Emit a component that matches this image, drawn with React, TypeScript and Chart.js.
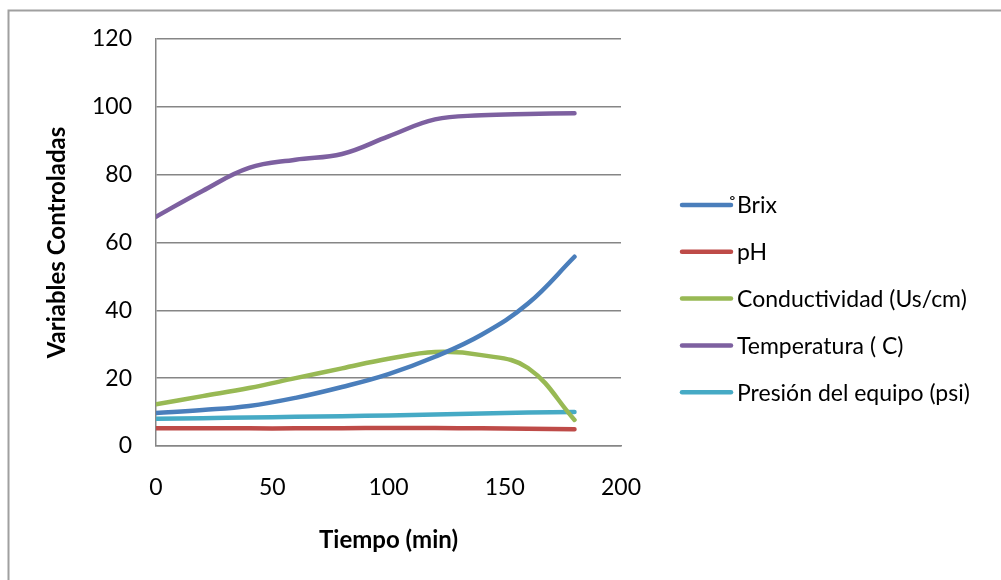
import React, { useEffect, useRef } from "react";
import { Chart, registerables } from "chart.js";

Chart.register(...registerables);

const tiempo = [0, 20, 40, 60, 80, 100, 120, 140, 160, 180];
const brix = [9.7, 10.6, 11.8, 14.2, 17.4, 21.2, 26.3, 32.8, 42.0, 55.8];
const ph = [5.2, 5.2, 5.2, 5.2, 5.25, 5.3, 5.3, 5.2, 5.05, 4.95];
const conductividad = [12.3, 14.7, 17.1, 20.0, 22.9, 25.7, 27.7, 26.8, 23.0, 7.7];
const temperatura = [67.6, 75.2, 82.0, 84.4, 86.1, 91.3, 96.3, 97.5, 97.9, 98.1];
const presion = [8.0, 8.2, 8.4, 8.6, 8.8, 9.0, 9.3, 9.6, 9.9, 10.0];

const seriesNames = [
  "˚Brix",
  "pH",
  "Conductividad (Us/cm)",
  "Temperatura ( C)",
  "Presión del equipo (psi)",
];
const seriesColors = ["#4A7EBB", "#BE4B48", "#98B954", "#7D60A0", "#46AAC5"];
const seriesValues = [brix, ph, conductividad, temperatura, presion];

const xTicks = [0, 50, 100, 150, 200];
const yTicks = [0, 20, 40, 60, 80, 100, 120];

const FONT = "Lato, 'Open Sans', sans-serif";

const framePlugin = {
  id: "frame",
  beforeDraw(chart: any) {
    const ctx = chart.ctx;
    ctx.save();
    ctx.fillStyle = "#ffffff";
    ctx.fillRect(0, 0, chart.width, chart.height);
    ctx.strokeStyle = "#a0a0a0";
    ctx.lineWidth = 2;
    ctx.beginPath();
    ctx.moveTo(8.5, chart.height);
    ctx.lineTo(8.5, 10.5);
    ctx.lineTo(chart.width, 10.5);
    ctx.stroke();
    ctx.restore();
  },
};

const legendPlugin = {
  id: "customLegend",
  afterDraw(chart: any) {
    const ctx = chart.ctx;
    ctx.save();
    ctx.font = `23px ${FONT}`;
    ctx.textBaseline = "middle";
    ctx.textAlign = "left";
    const startY = 205;
    const step = 46.8;
    chart.data.datasets.forEach((ds: any, i: number) => {
      const y = startY + i * step;
      ctx.strokeStyle = ds.borderColor;
      ctx.lineWidth = 4.5;
      ctx.lineCap = "round";
      ctx.beginPath();
      ctx.moveTo(682, y);
      ctx.lineTo(731, y);
      ctx.stroke();
      ctx.fillStyle = "#000000";
      const label: string = ds.label;
      let x = 737;
      if (label.startsWith("˚")) {
        x -= ctx.measureText("˚").width;
      }
      ctx.fillText(label, x, y + 1);
    });
    ctx.restore();
  },
};

export default function App() {
  const ref = useRef<HTMLCanvasElement | null>(null);

  useEffect(() => {
    document.body.style.margin = "0";
    document.body.style.overflow = "hidden";
    if (!ref.current) return;
    const datasets = seriesNames.map((name, i) => ({
      label: name,
      data: tiempo.map((t, j) => ({ x: t, y: seriesValues[i][j] })),
      borderColor: seriesColors[i],
      backgroundColor: seriesColors[i],
      borderWidth: 4.5,
      borderCapStyle: "round" as const,
      borderJoinStyle: "round" as const,
      pointRadius: 0,
      pointHoverRadius: 0,
      tension: 0.4,
      fill: false,
    }));
    const chart = new Chart(ref.current, {
      type: "line",
      data: { datasets },
      options: {
        animation: false,
        responsive: false,
        maintainAspectRatio: false,
        layout: { padding: { top: 39, right: 380, bottom: 0, left: 0 } },
        plugins: {
          legend: { display: false },
          tooltip: { enabled: false },
        },
        scales: {
          x: {
            type: "linear",
            min: 0,
            max: 200,
            afterFit: (s: any) => {
              s.height = 134;
            },
            afterBuildTicks: (s: any) => {
              s.ticks = xTicks.map((v) => ({ value: v }));
            },
            grid: { display: false, drawTicks: false },
            border: { display: true, color: "#868686", width: 1.5 },
            ticks: {
              padding: 28,
              color: "#000",
              font: { family: FONT, size: 23 },
              maxRotation: 0,
            },
            title: {
              display: true,
              text: "Tiempo (min)",
              color: "#000",
              font: { family: FONT, size: 24, weight: "bold" },
              padding: { top: 0, bottom: 25 },
            },
          },
          y: {
            type: "linear",
            min: 0,
            max: 120,
            afterFit: (s: any) => {
              s.width = 156;
            },
            afterBuildTicks: (s: any) => {
              s.ticks = yTicks.map((v) => ({ value: v }));
            },
            grid: { color: "#868686", lineWidth: 1.5, drawTicks: false },
            border: { display: true, color: "#868686", width: 1.5 },
            ticks: {
              padding: 24,
              color: "#000",
              font: { family: FONT, size: 23 },
            },
            title: {
              display: true,
              text: "Variables Controladas",
              color: "#000",
              font: { family: FONT, size: 24, weight: "bold" },
              padding: { top: 43, bottom: 0 },
            },
          },
        },
      },
      plugins: [framePlugin, legendPlugin],
    });
    return () => chart.destroy();
  }, []);

  return (
    <canvas
      ref={ref}
      width={1001}
      height={580}
      style={{ display: "block", width: "1001px", height: "580px" }}
    />
  );
}
